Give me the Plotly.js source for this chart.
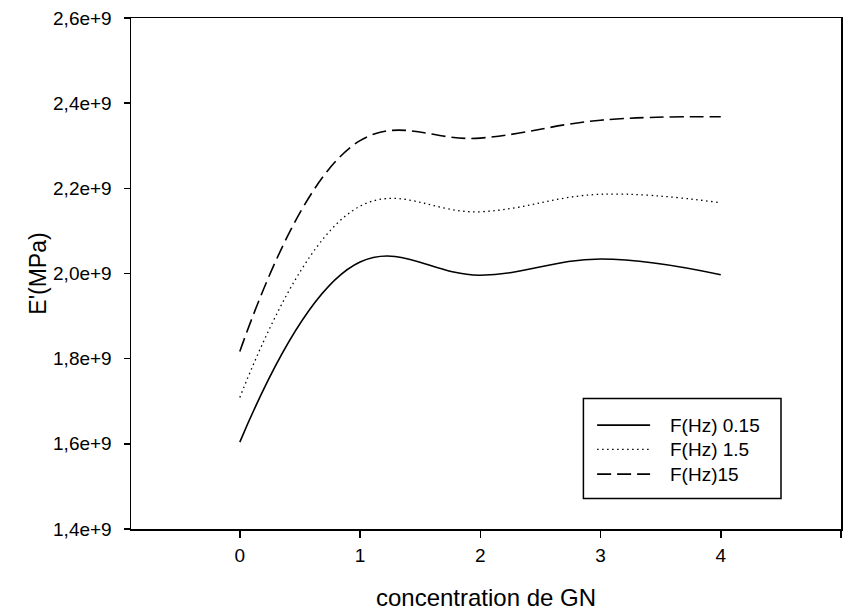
<!DOCTYPE html>
<html>
<head>
<meta charset="utf-8">
<script src="https://cdn.plot.ly/plotly-3.0.1.min.js"></script>
<style>
html,body{margin:0;padding:0;background:#fff;}
#chart{width:846px;height:614px;}
</style>
</head>
<body>
<div id="chart"></div>
<script>
// Data
var concentration = [0, 1, 2, 3, 4];
var e_f015 = [1.604e9, 2.027e9, 1.996e9, 2.034e9, 1.997e9];
var e_f15 = [1.709e9, 2.158e9, 2.145e9, 2.186e9, 2.166e9];
var e_f15hz = [1.817e9, 2.312e9, 2.318e9, 2.360e9, 2.368e9];
var seriesNames = ['F(Hz) 0.15', 'F(Hz) 1.5', 'F(Hz)15'];
var yTickVals = [1.4e9, 1.6e9, 1.8e9, 2.0e9, 2.2e9, 2.4e9, 2.6e9];
var yTickText = ['1,4e+9', '1,6e+9', '1,8e+9', '2,0e+9', '2,2e+9', '2,4e+9', '2,6e+9'];
var xTickVals = [0, 1, 2, 3, 4, 5];

var FONT = '"Liberation Sans", Arial, sans-serif';
var dashes = ['solid', '1.5px,3.5px', '14px,6px'];
var widths = [1.6, 1.3, 1.6];
var seriesY = [e_f015, e_f15, e_f15hz];

var traces = seriesY.map(function (ys, i) {
  return {
    x: concentration, y: ys, name: seriesNames[i], type: 'scatter', mode: 'lines',
    line: {color: '#000', width: widths[i], dash: dashes[i], shape: 'spline', smoothing: 1.15},
    showlegend: false, hoverinfo: 'x+y'
  };
});

// Hand-built boxed legend (long line samples as in the reference)
var L = {x0: 0.6372, x1: 0.9155, y0: 0.0595, y1: 0.2552, sx0: 0.6565, sx1: 0.7311, tx: 0.7565};
var rowY = [0.2033, 0.1558, 0.1074];
var shapes = [{type: 'rect', xref: 'paper', yref: 'paper', x0: L.x0, x1: L.x1, y0: L.y0, y1: L.y1,
  line: {color: '#000', width: 1.5}, fillcolor: 'rgba(0,0,0,0)'}];
var annotations = [];
seriesNames.forEach(function (n, i) {
  shapes.push({type: 'line', xref: 'paper', yref: 'paper', x0: L.sx0, x1: L.sx1, y0: rowY[i], y1: rowY[i],
    line: {color: '#000', width: widths[i], dash: dashes[i]}});
  annotations.push({xref: 'paper', yref: 'paper', x: L.tx, y: rowY[i], xanchor: 'left', yanchor: 'middle',
    text: n, showarrow: false, font: {family: FONT, size: 19, color: '#000'}});
});

var layout = {
  width: 846, height: 614,
  margin: {l: 131, r: 5, t: 18, b: 85},
  paper_bgcolor: '#fff', plot_bgcolor: '#fff',
  font: {family: FONT, size: 19, color: '#000'},
  showlegend: false,
  xaxis: {
    range: [-0.905, 5.0], tickvals: xTickVals, ticks: 'outside', ticklen: 7, tickwidth: 1.5, tickcolor: '#000',
    showline: true, linecolor: '#000', linewidth: 1.5, mirror: true, showgrid: false, zeroline: false,
    tickfont: {family: FONT, size: 19, color: '#000'}, ticklabelstandoff: 2,
    title: {text: 'concentration de GN', font: {family: FONT, size: 24, color: '#000'}, standoff: 24}
  },
  yaxis: {
    range: [1.4e9, 2.6e9], tickvals: yTickVals, ticktext: yTickText, ticks: 'outside', ticklen: 6, tickwidth: 1.5,
    tickcolor: '#000', showline: true, linecolor: '#000', linewidth: 1.5, mirror: true, showgrid: false, zeroline: false,
    tickfont: {family: FONT, size: 19, color: '#000'}, ticklabelstandoff: 8,
    title: {text: "E'(MPa)", font: {family: FONT, size: 23, color: '#000'}, standoff: 0}
  },
  shapes: shapes,
  annotations: annotations
};

Plotly.newPlot('chart', traces, layout, {displayModeBar: false, staticPlot: true});
</script>
</body>
</html>
